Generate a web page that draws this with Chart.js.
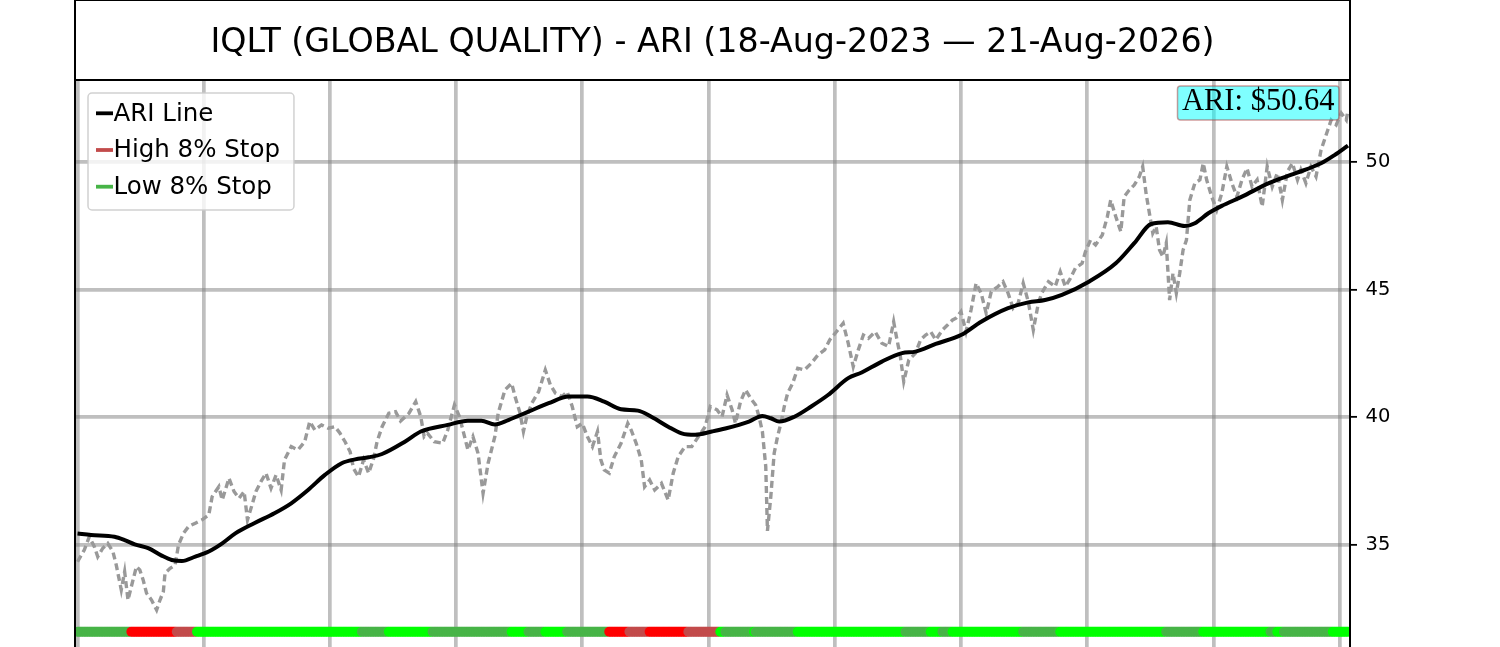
<!DOCTYPE html>
<html>
<head>
<meta charset="utf-8">
<script src="https://cdn.jsdelivr.net/npm/chart.js@4.4.1/dist/chart.umd.min.js"></script>
<style>
html,body{margin:0;padding:0;background:#ffffff;overflow:hidden;}
#wrap{width:1500px;height:647px;position:relative;}
</style>
</head>
<body>
<div id="wrap"><canvas id="c"></canvas></div>
<script>
// ---------- data ----------
const chartTitle = 'IQLT (GLOBAL QUALITY) - ARI (18-Aug-2023 \u2014 21-Aug-2026)';
const seriesLabels = ['ARI Line', 'High 8% Stop', 'Low 8% Stop'];

// trading-day index of each price sample
const priceIdx = [
  0,4,7,10,12,15,18,21,23,24,
  26,28,30,32,35,37,39,41,44,47,
  49,51,52,55,58,60,63,66,70,74,
  78,80,84,86,90,93,96,99,101,104,
  106,109,112,115,118,121,123,127,131,135,
  138,141,145,149,153,156,159,162,164,167,
  170,173,176,178,181,185,189,192,197,201,
  204,206,208,212,217,220,224,227,230,232,
  235,238,241,244,248,250,254,258,260,263,
  265,267,270,274,278,281,284,288,291,294,
  297,300,303,306,309,311,313,316,319,323,
  327,329,332,335,337,340,343,347,351,354,
  357,361,365,369,373,376,380,383,386,389,
  391,394,397,400,403,405,407,409,410,412,
  414,416,418,420,422,425,428,432,436,440,
  444,447,451,455,458,461,464,467,470,474,
  478,482,485,487,489,491,494,498,501,504,
  507,510,514,517,520,522,525,528,531,534,
  537,540,543,547,550,553,556,559,562,565,
  568,571,573,577,581,584,587,590,593,597,
  599,602,605,609,612,614,617,620,622,625,
  628,631,633,635,637,639,641,643,645,647,
  649,651,653,655,657,659,661,664,667,669,
  671,674,677,680,683,686,689,692,695,698,
  701,704,707,710,713,716,719,722,725,727,
  730,733,736,739,741,743,745,748,751,754,755
];
const priceVals = [
  34.34,34.80,35.32,34.93,34.54,34.87,35.06,34.74,34.22,33.89,
  33.24,33.95,32.84,33.37,34.15,34.02,33.63,33.11,32.84,32.45,
  32.84,33.17,33.89,34.08,34.21,35.00,35.46,35.72,35.85,35.98,
  36.17,36.89,37.28,36.76,37.61,37.09,36.83,37.09,35.98,36.63,
  37.09,37.48,37.81,37.22,37.74,37.15,38.33,38.85,38.72,39.04,
  39.83,39.50,39.70,39.57,39.63,39.37,39.04,38.65,38.00,37.67,
  38.33,37.81,38.39,39.04,39.63,40.16,40.22,39.85,40.16,40.61,
  40.02,39.24,39.37,39.04,38.98,39.50,40.48,40.02,39.24,38.72,
  39.24,38.59,37.02,38.20,39.24,40.16,41.07,41.33,40.81,40.16,
  39.44,40.02,40.55,41.00,41.85,41.27,40.94,40.81,41.00,40.42,
  39.63,39.76,39.24,38.85,39.44,38.33,37.94,37.81,38.46,38.98,
  39.76,39.50,38.98,38.33,37.28,37.54,37.15,37.41,36.76,37.81,
  38.46,38.85,38.85,39.24,39.63,40.42,40.29,40.02,40.87,40.29,
  39.76,40.61,41.07,40.74,40.48,40.02,39.44,38.07,35.55,36.89,
  38.59,39.24,39.76,40.42,40.94,41.33,41.92,41.85,42.11,42.44,
  42.64,43.03,43.35,43.68,42.90,41.98,42.64,43.22,43.09,43.35,
  42.90,42.77,43.74,43.03,42.38,41.40,42.24,42.51,43.03,43.22,
  43.35,43.03,43.42,43.61,43.81,43.88,44.14,43.35,44.20,45.25,
  44.86,44.07,44.92,45.12,45.31,44.86,44.27,44.47,45.25,44.53,
  43.42,44.47,44.86,45.31,45.12,45.70,45.12,45.44,45.84,46.03,
  46.49,46.94,46.75,47.14,47.86,48.51,47.86,47.27,48.64,48.90,
  49.10,49.43,49.82,48.77,47.99,47.21,47.47,46.55,46.29,46.82,
  44.59,45.64,44.86,45.64,46.55,46.94,48.51,49.17,49.30,49.95,
  49.30,48.64,48.12,48.77,49.82,49.17,48.64,49.30,49.75,49.03,
  49.30,48.25,49.82,49.03,49.56,48.51,49.62,49.95,49.30,49.69,
  49.17,49.82,49.43,50.47,50.86,51.25,51.64,51.45,51.91,51.64,52.04
];

// ARI line samples
const ariIdx = [
  0,8,22,28,34,42,50,56,62,70,
  78,86,94,105,117,127,137,147,157,165,
  173,181,195,204,220,232,240,248,256,268,
  280,292,303,313,323,333,341,351,359,367,
  377,385,399,407,412,417,426,436,446,458,
  466,478,490,498,510,525,537,553,565,575,
  585,601,617,628,638,648,658,664,672,680,
  692,708,724,739,747,755
];
const ariVals = [
  35.45,35.39,35.32,35.19,35.02,34.87,34.58,34.41,34.37,34.54,
  34.74,35.06,35.46,35.85,36.24,36.63,37.15,37.74,38.20,38.35,
  38.43,38.56,39.06,39.44,39.70,39.86,39.86,39.72,39.89,40.22,
  40.55,40.81,40.81,40.61,40.31,40.26,40.02,39.63,39.37,39.31,
  39.44,39.56,39.83,40.05,39.96,39.83,40.02,40.42,40.87,41.53,
  41.75,42.18,42.51,42.57,42.87,43.22,43.74,44.27,44.50,44.59,
  44.79,45.31,46.03,46.82,47.57,47.64,47.49,47.60,47.99,48.28,
  48.64,49.17,49.56,49.95,50.27,50.64
];

// stop-signal strip: runs (start index, state); G = above low stop (fresh), g = above low stop,
// R = below high stop (fresh), r = below high stop
const stripLevel = 31.6;
const stripEndIdx = 755;
const stripRunStart = [0,32,59,71,169,185,211,258,268,278,291,316,328,340,363,382,385,402,403,428,492,507,514,520,562,584,647,669,709,713,717,746];
const stripRunState = ['g','R','r','G','g','G','g','G','g','G','g','R','r','R','r','G','g','G','g','G','g','G','g','G','g','G','g','G','g','G','g','G'];

const yTickValues = [35, 40, 45, 50];
const xTickValues = [0, 75, 150, 225, 300, 375, 450, 525, 600, 675, 750];

// ---------- styles ----------
const stateColors = { G: '#00ff00', g: '#47b447', R: '#ff0000', r: '#c24b4b' };
const gridColor = 'rgba(128,128,128,0.5)';

// ---------- build library structures ----------
const priceData = priceIdx.map((x, i) => ({ x, y: priceVals[i] }));
const ariData = ariIdx.map((x, i) => ({ x, y: ariVals[i] }));
const stripData = [], stripColors = [];
stripRunStart.forEach((s, r) => {
  const e = r + 1 < stripRunStart.length ? stripRunStart[r + 1] : stripEndIdx + 1;
  for (let i = s; i < e; i++) {
    stripData.push({ x: i, y: stripLevel });
    stripColors.push(stateColors[stripRunState[r]]);
  }
});

const overlay = {
  id: 'overlay',
  afterDatasetsDraw(chart, args, o) {
    const { ctx, chartArea: a } = chart;
    ctx.save();
    // legend box
    const items = chart.data.datasets.filter(d => d.inLegend);
    ctx.font = o.legendFontSize + "px 'DejaVu Sans', sans-serif";
    const maxW = Math.max(...items.map(d => ctx.measureText(d.label).width));
    const lx = a.left + 13, ly = a.top + 13, rowH = 36.7;
    const w = 25.5 + maxW + 14, h = 20.3 + (items.length - 1) * rowH + 23.3;
    ctx.beginPath();
    ctx.roundRect(lx, ly, w, h, 4);
    ctx.fillStyle = 'rgba(255,255,255,0.8)';
    ctx.fill();
    ctx.strokeStyle = 'rgba(204,204,204,0.9)';
    ctx.lineWidth = 1.5;
    ctx.stroke();
    items.forEach((d, i) => {
      const cy = ly + 20.3 + i * rowH;
      ctx.strokeStyle = d.borderColor;
      ctx.lineWidth = 3.8;
      ctx.beginPath();
      ctx.moveTo(lx + 8, cy);
      ctx.lineTo(lx + 25, cy);
      ctx.stroke();
      ctx.fillStyle = '#000';
      ctx.textAlign = 'left';
      ctx.textBaseline = 'middle';
      ctx.fillText(d.label, lx + 25.5, cy + 1);
    });
    // current ARI value box
    const txt = 'ARI: $' + ariVals[ariVals.length - 1].toFixed(2);
    ctx.font = o.labelFontSize + "px 'Liberation Serif', serif";
    const tw = ctx.measureText(txt).width;
    const bw = tw + 9, bh = 34;
    const bx = a.right - 11 - bw, by = a.top + 6;
    ctx.beginPath();
    ctx.roundRect(bx, by, bw, bh, 3);
    ctx.fillStyle = 'rgba(0,255,255,0.5)';
    ctx.fill();
    ctx.strokeStyle = 'rgba(165,60,60,0.5)';
    ctx.lineWidth = 1.5;
    ctx.stroke();
    ctx.fillStyle = '#000';
    ctx.textAlign = 'left';
    ctx.textBaseline = 'alphabetic';
    ctx.fillText(txt, bx + 4.5, by + 23.8);
    ctx.restore();
  },
  afterDraw(chart) {
    const { ctx, chartArea: a } = chart;
    ctx.save();
    ctx.strokeStyle = '#000';
    ctx.lineWidth = 2;
    ctx.beginPath();
    ctx.moveTo(a.left, 0); ctx.lineTo(a.right, 0);
    ctx.moveTo(a.left, a.top); ctx.lineTo(a.right, a.top);
    ctx.moveTo(a.left, 0); ctx.lineTo(a.left, chart.height);
    ctx.moveTo(a.right, 0); ctx.lineTo(a.right, chart.height);
    ctx.stroke();
    ctx.restore();
  }
};

new Chart(document.getElementById('c'), {
  type: 'line',
  data: {
    datasets: [
      {
        label: seriesLabels[0], data: ariData, inLegend: true, order: 0,
        borderColor: '#000000', borderWidth: 4, pointRadius: 0,
        cubicInterpolationMode: 'monotone', fill: false
      },
      {
        label: 'Price', data: priceData, order: 3,
        borderColor: '#999999', borderWidth: 3.4, borderDash: [7, 4],
        pointRadius: 0, tension: 0, fill: false
      },
      {
        label: seriesLabels[1], data: [], inLegend: true, order: 4,
        borderColor: stateColors.r, pointRadius: 0
      },
      {
        label: seriesLabels[2], data: [], inLegend: true, order: 5,
        borderColor: stateColors.g, pointRadius: 0
      },
      {
        label: 'Stop state', data: stripData, order: 1, showLine: false,
        pointRadius: 5, pointHoverRadius: 5, pointBorderWidth: 0,
        pointBackgroundColor: stripColors, pointBorderColor: stripColors, clip: 0
      }
    ]
  },
  options: {
    responsive: true,
    maintainAspectRatio: false,
    animation: false,
    events: [],
    layout: { autoPadding: false, padding: { left: 75, right: 0, top: 0, bottom: 0 } },
    plugins: {
      legend: { display: false },
      tooltip: { enabled: false },
      title: {
        display: true, text: chartTitle, fullSize: false, color: '#000',
        font: { family: "'DejaVu Sans', sans-serif", size: 33.3, weight: 'normal', lineHeight: 1.2 },
        padding: { top: 23, bottom: 17.04 }
      },
      overlay: { legendFontSize: 24.5, labelFontSize: 30.5 }
    },
    scales: {
      x: {
        type: 'linear', min: -1.5, max: 756.2,
        afterBuildTicks: s => { s.ticks = xTickValues.map(v => ({ value: v })); },
        afterFit: s => { s.height = 0; s.paddingLeft = 0; s.paddingRight = 0; },
        ticks: { display: false },
        grid: { color: gridColor, lineWidth: 3.7, drawTicks: false },
        border: { display: false }
      },
      y: {
        type: 'linear', position: 'right', min: 31.0, max: 53.21,
        afterBuildTicks: s => { s.ticks = yTickValues.map(v => ({ value: v })); },
        afterFit: s => { s.width = 150; s.paddingTop = 0; s.paddingBottom = 0; },
        ticks: {
          color: '#000', padding: 8.5,
          font: { family: "'DejaVu Sans', sans-serif", size: 19.5 },
          callback: v => String(v)
        },
        grid: { color: gridColor, lineWidth: 3.7, tickLength: 7, tickColor: '#000', tickWidth: 1.8 },
        border: { display: false }
      }
    }
  },
  plugins: [overlay]
});
</script>
</body>
</html>
